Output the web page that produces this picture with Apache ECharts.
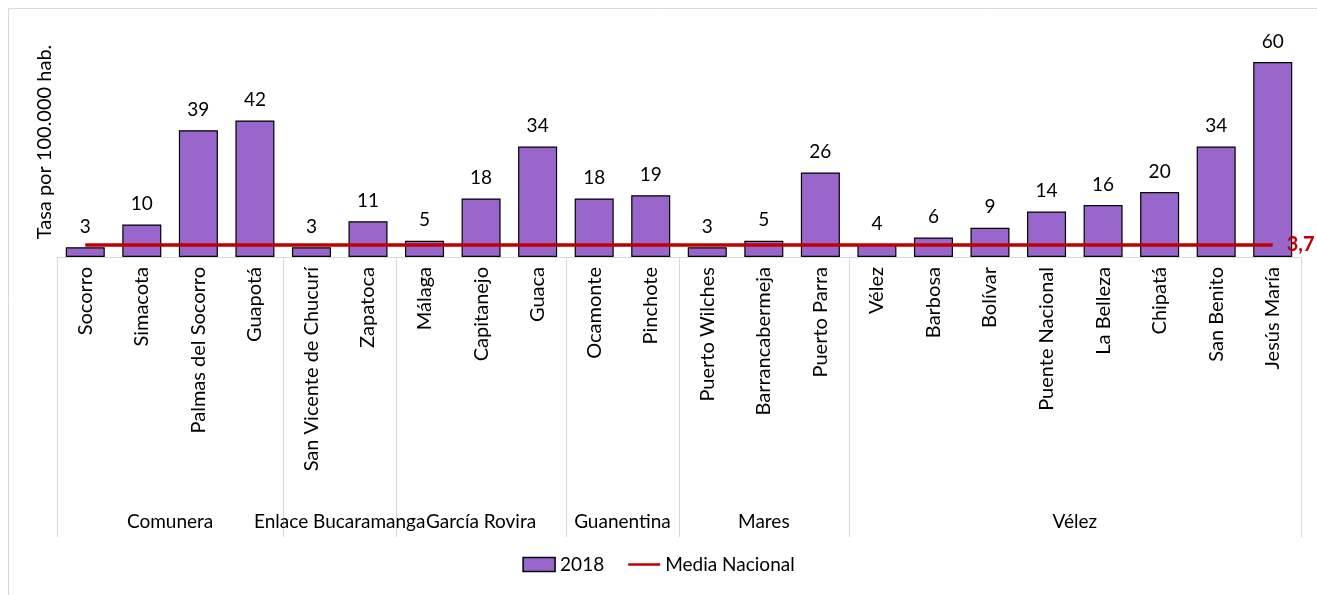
<!DOCTYPE html>
<html>
<head>
<meta charset="utf-8">
<script src="https://cdn.jsdelivr.net/npm/echarts@6/dist/echarts.min.js"></script>
<style>html,body{margin:0;padding:0;background:#fff}#c{width:1317px;height:595px}</style>
</head>
<body>
<div id="c"></div>
<script>
const categories = ["Socorro","Simacota","Palmas del Socorro","Guapotá","San Vicente de Chucurí","Zapatoca","Málaga","Capitanejo","Guaca","Ocamonte","Pinchote","Puerto Wilches","Barrancabermeja","Puerto Parra","Vélez","Barbosa","Bolívar","Puente Nacional","La Belleza","Chipatá","San Benito","Jesús María"];
const values2018 = [3,10,39,42,3,11,5,18,34,18,19,3,5,26,4,6,9,14,16,20,34,60];
const groupNames = ["Comunera","Enlace Bucaramanga","García Rovira","Guanentina","Mares","Vélez"];
const groupSizes = [4,2,3,2,3,8];
const mediaNacional = 3.7;
const mediaLabel = "3,7";
const yAxisTitle = "Tasa por 100.000 hab.";

const FONT = "Lato";
const chart = echarts.init(document.getElementById('c'), null, {renderer:'canvas'});
const option = {
  animation: false,
  textStyle: {fontFamily: FONT},
  grid: {left: 57, right: 16, top: 62, bottom: 338, containLabel: false},
  legend: {
    bottom: 16, left: 'center', itemGap: 24, itemWidth: 32, itemHeight: 14,
    textStyle: {fontSize: 19, color: '#000', fontFamily: FONT},
    data: [
      {name: '2018', icon: 'rect', itemStyle:{borderColor:'#000', borderWidth:1.5}},
      {name: 'Media Nacional', icon: 'path://M0,0 L40,0 L40,3 L0,3 Z', itemStyle:{color:'#c00000'}}
    ]
  },
  xAxis: {
    type: 'category', data: categories,
    axisLine: {lineStyle: {color: '#d9d9d9'}},
    axisTick: {show: false},
    axisLabel: {rotate: 90, interval: 0, fontSize: 20, color: '#000', margin: 10, fontFamily: FONT}
  },
  yAxis: {
    type: 'value', min: 0, max: 60, show: false
  },
  series: [
    {
      name: '2018', type: 'bar', data: values2018, barWidth: '69%',
      itemStyle: {color: '#9966cc', borderColor: '#000', borderWidth: 1.2},
      label: {show: true, position: 'top', distance: 11, fontSize: 19, color: '#000', fontFamily: FONT}
    },
    {
      name: 'Media Nacional', type: 'line', data: categories.map(() => mediaNacional),
      symbol: 'none', lineStyle: {color: '#c00000', width: 3.5}, itemStyle: {color: '#c00000'},
      z: 5,
      endLabel: {show: true, formatter: mediaLabel, color: '#c00000', fontWeight: 'bold', fontSize: 20, distance: 14, fontFamily: FONT}
    }
  ]
};
chart.setOption(option);

function buildGraphics() {
  const p0 = chart.convertToPixel({xAxisIndex: 0}, 0);
  const p1 = chart.convertToPixel({xAxisIndex: 0}, 1);
  const band = p1 - p0;
  const axisY = chart.convertToPixel({yAxisIndex: 0}, 0);
  const boxBottom = 537;
  const g = [];
  g.push({type:'rect', shape:{x:8.5, y:8.5, width:1400, height:700}, style:{fill:null, stroke:'#d9d9d9', lineWidth:1}, silent:true, z:-10});
  g.push({type:'text', x: 45, y: 142, rotation: Math.PI/2, style:{text: yAxisTitle, fontSize: 20, fill:'#000', fontFamily: FONT, align:'center', verticalAlign:'middle'}});
  let idx = 0;
  const leftX = Math.round(p0 - band/2) + 0.5;
  g.push({type:'line', shape:{x1:leftX, y1:axisY, x2:leftX, y2:boxBottom}, style:{stroke:'#d9d9d9', lineWidth:1}});
  groupSizes.forEach((n, gi) => {
    const first = chart.convertToPixel({xAxisIndex: 0}, idx);
    const last = chart.convertToPixel({xAxisIndex: 0}, idx + n - 1);
    const right = Math.round(last + band/2) + 0.5;
    g.push({type:'line', shape:{x1:right, y1:axisY, x2:right, y2:boxBottom}, style:{stroke:'#d9d9d9', lineWidth:1}});
    g.push({type:'text', x:(first + last)/2, y: 522, style:{text: groupNames[gi], fontSize:19, fill:'#000', fontFamily: FONT, align:'center', verticalAlign:'middle'}});
    idx += n;
  });
  chart.setOption({graphic: g});
}
buildGraphics();
</script>
</body>
</html>
